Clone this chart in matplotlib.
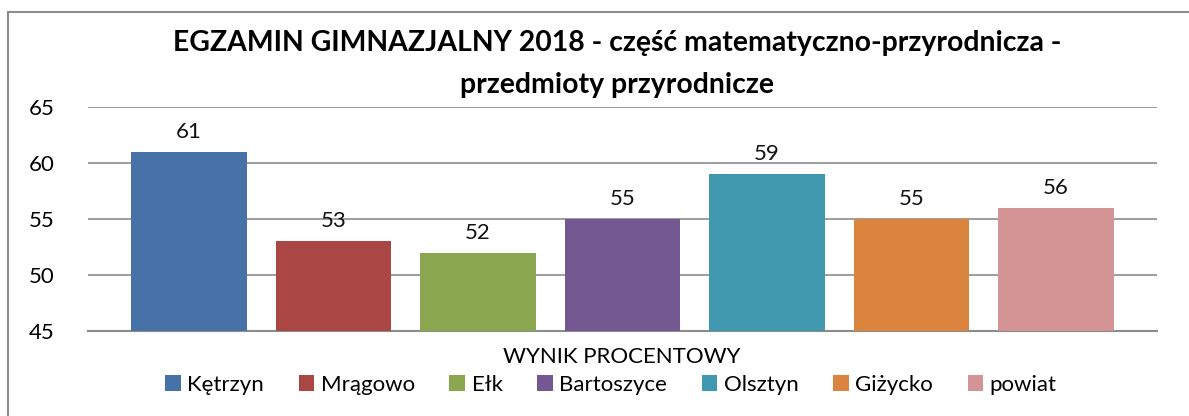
import numpy as np
import matplotlib.pyplot as plt
from matplotlib.patches import Rectangle

plt.rcParams['font.family'] = ['Lato', 'DejaVu Sans']

title = "EGZAMIN GIMNAZJALNY 2018 - część matematyczno-przyrodnicza -\nprzedmioty przyrodnicze"
category = "WYNIK PROCENTOWY"
names = ["Kętrzyn", "Mrągowo", "Ełk", "Bartoszyce", "Olsztyn", "Giżycko", "powiat"]
values = [61, 53, 52, 55, 59, 55, 56]
colors = ["#4672A8", "#AA4644", "#8AA64E", "#735891", "#4199B0", "#DB843D", "#D49394"]
yticks = [45, 50, 55, 60, 65]

W, H = 1189, 416
fig = plt.figure(figsize=(W / 100, H / 100), dpi=100)
ax = fig.add_axes([88 / W, 1 - 331 / H, (1157 - 88) / W, (331 - 107) / H])

# outer chart border (cut off on the right and bottom in the original)
fig.patches.append(Rectangle((8 / W, -0.1), 1.2, 1 - 12 / H + 0.1, transform=fig.transFigure,
                             fill=False, edgecolor="#8c8c8c", linewidth=1.5))

x = np.arange(len(names))
bars = ax.bar(x, [v - 45 for v in values], bottom=45, width=0.8, color=colors, zorder=3)
for b, n in zip(bars, names):
    b.set_label(n)
for xi, v in zip(x, values):
    ax.text(xi, v + 0.9, str(v), ha="center", va="bottom", fontsize=16, color="#111111")

ax.set_xlim(-0.7, len(names) - 0.3)
ax.set_ylim(45, 65)
ax.set_yticks(yticks)
ax.set_xticks([])
ax.tick_params(axis="y", length=0, labelsize=16, pad=24)
ax.grid(axis="y", color="#8c8c8c", linewidth=1.2, zorder=0)
for s in ["left", "right", "top"]:
    ax.spines[s].set_visible(False)
ax.spines["bottom"].set_color("#8c8c8c")
ax.spines["bottom"].set_linewidth(1.5)

fig.text(622 / W, 1 - 357 / H, category, ha="center", va="center", fontsize=16)
fig.text(617 / W, 1 - 64 / H, title, ha="center", va="center", fontsize=20.4,
         fontweight="bold", linespacing=1.75)

fig.legend(handles=list(bars), labels=names, loc="center", bbox_to_anchor=(611 / W, 1 - 385 / H),
           ncol=7, frameon=False, fontsize=16, handlelength=0.7, handleheight=0.7,
           handletextpad=0.3, columnspacing=1.55)

fig.savefig("out.png", dpi=100)
